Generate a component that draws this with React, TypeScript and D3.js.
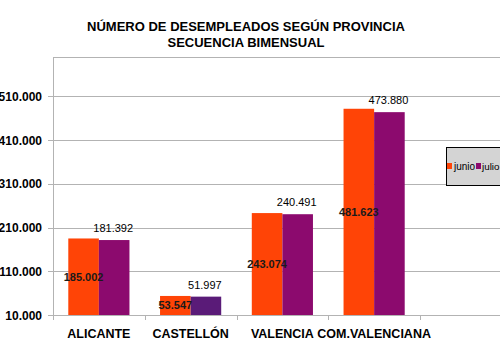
import React from "react";
import * as d3 from "d3";

const categories = ["ALICANTE", "CASTELLÓN", "VALENCIA", "COM.VALENCIANA"];
const seriesNames = ["junio", "julio"];
const junio = [185002, 53547, 243074, 481623];
const julio = [181392, 51997, 240491, 473880];
const yTicks = [10000, 110000, 210000, 310000, 410000, 510000];
const yMin = 10000;
const yMax = 600000;

const juniColor = "#ff4406";
const julioColor = "#8c0a6e";
const julioColorCastellon = "#5a1b78";

const fmt = (v: number) =>
  d3.format(",")(v).replace(/,/g, ".");

export default function App() {
  const W = 500;
  const H = 361;
  const left = 53;
  const top = 57;
  const bottom = 315;
  const plotRight = 515;
  const x = d3.scaleBand<string>().domain(categories).range([left, left + 4 * 91.75]).padding(0);
  const xs = d3.scaleBand<string>().domain(seriesNames).range([0, x.bandwidth()]).paddingInner(0).paddingOuter(0.5);
  const y = d3.scaleLinear().domain([yMin, yMax]).range([bottom, top]);
  const font = "Arial, 'Liberation Sans', Helvetica, sans-serif";

  const boundaries = categories.map((c) => x(c)!).concat([x(categories[categories.length - 1])! + x.bandwidth()]);

  return (
    <svg width={W} height={H} style={{ position: "absolute", left: 0, top: 0, background: "#fff" }} fontFamily={font}>
      <rect x={0} y={0} width={W} height={H} fill="#fff" />
      {/* title */}
      <text x={246} y={31} textAnchor="middle" fontSize={13} fontWeight="bold" fill="#000">
        NÚMERO DE DESEMPLEADOS SEGÚN PROVINCIA
      </text>
      <text x={246} y={47} textAnchor="middle" fontSize={13} fontWeight="bold" fill="#000">
        SECUENCIA BIMENSUAL
      </text>
      {/* plot frame top */}
      <line x1={left} x2={plotRight} y1={top + 0.5} y2={top + 0.5} stroke="#b3b3b3" />
      {/* grid */}
      {yTicks.map((t) => (
        <g key={t}>
          <line x1={left - 5} x2={plotRight} y1={Math.round(y(t)) + 0.5} y2={Math.round(y(t)) + 0.5} stroke="#b3b3b3" />
          <text x={42} y={y(t) + 4.5} textAnchor="end" fontSize={12} fontWeight="bold" fill="#000">
            {fmt(t)}
          </text>
        </g>
      ))}
      {/* y axis line */}
      <line x1={left + 0.5} x2={left + 0.5} y1={top} y2={bottom + 5} stroke="#b3b3b3" />
      {/* category ticks */}
      {boundaries.map((b, i) => (
        <line key={i} x1={Math.round(b) + 0.5} x2={Math.round(b) + 0.5} y1={bottom} y2={bottom + 5} stroke="#b3b3b3" />
      ))}
      {/* bars */}
      {categories.map((c, i) => {
        const bx = x(c)!;
        const xj = bx + xs("junio")!;
        const xl = bx + xs("julio")!;
        const bw = xs.bandwidth();
        const yj = y(junio[i]);
        const yl = y(julio[i]);
        return (
          <g key={c}>
            <rect x={xj} y={yj} width={bw} height={bottom - yj} fill={juniColor} />
            <rect x={xl} y={yl} width={bw} height={bottom - yl} fill={i === 1 ? julioColorCastellon : julioColor} />
            <text x={xj + bw / 2} y={(yj + bottom) / 2 + 4} textAnchor="middle" fontSize={11} fontWeight="bold" fill="#1a1a1a">
              {fmt(junio[i])}
            </text>
            <text x={xl + bw / 2 - 1} y={yl - 8} textAnchor="middle" fontSize={11} fill="#000">
              {fmt(julio[i])}
            </text>
            <text x={bx + x.bandwidth() / 2} y={338} textAnchor="middle" fontSize={12.5} fontWeight="bold" fill="#000">
              {c}
            </text>
          </g>
        );
      })}
      {/* legend */}
      <rect x={446.5} y={147.5} width={60} height={38} fill="#d4d4d4" stroke="#000" />
      <rect x={447} y={163} width={5} height={6} fill={juniColor} />
      <text x={454} y={170} fontSize={10} fill="#000">{seriesNames[0]}</text>
      <rect x={476} y={163} width={5} height={6} fill={julioColor} />
      <text x={482} y={170} fontSize={9.8} fill="#000">{seriesNames[1]}</text>
    </svg>
  );
}
